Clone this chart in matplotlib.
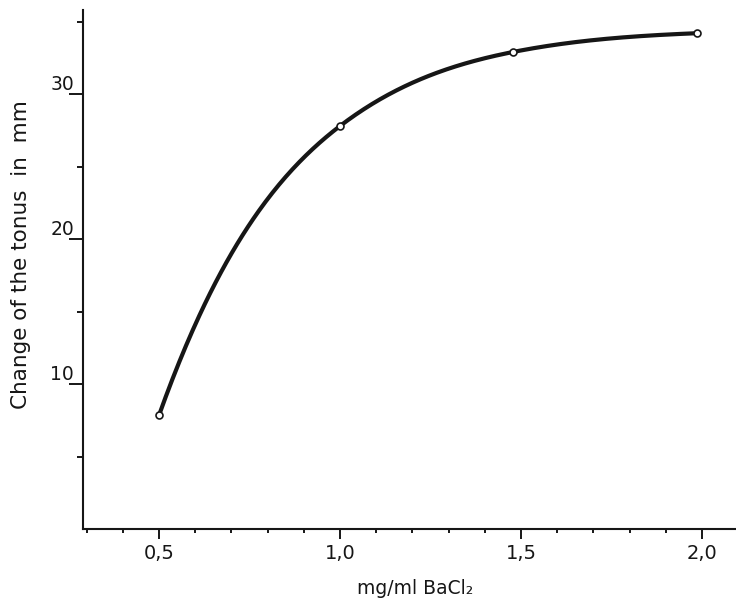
import numpy as np
import matplotlib
matplotlib.use("Agg")
import matplotlib.pyplot as plt
from matplotlib.ticker import FixedLocator, MultipleLocator

# data
conc = [0.5, 1.0, 1.477, 1.986]          # mg/ml BaCl2
tonus = [7.85, 27.8, 32.9, 34.2]         # change of the tonus in mm
x_ticks = [0.5, 1.0, 1.5, 2.0]
x_ticklabels = ["0,5", "1,0", "1,5", "2,0"]
y_ticks = [10, 20, 30]
y_ticklabels = ["10", "20", "30"]
end_slopes = (70.0, 1.0)                 # tangent of the drawn curve at its ends


def clamped_spline(x, y, xs, s0, s1):
    x = np.asarray(x, float); y = np.asarray(y, float)
    n = len(x)
    h = np.diff(x)
    A = np.zeros((n, n)); b = np.zeros(n)
    A[0, 0] = 2 * h[0]; A[0, 1] = h[0]
    b[0] = 6 * ((y[1] - y[0]) / h[0] - s0)
    A[-1, -2] = h[-1]; A[-1, -1] = 2 * h[-1]
    b[-1] = 6 * (s1 - (y[-1] - y[-2]) / h[-1])
    for i in range(1, n - 1):
        A[i, i - 1] = h[i - 1]
        A[i, i] = 2 * (h[i - 1] + h[i])
        A[i, i + 1] = h[i]
        b[i] = 6 * ((y[i + 1] - y[i]) / h[i] - (y[i] - y[i - 1]) / h[i - 1])
    M = np.linalg.solve(A, b)
    out = np.empty_like(xs)
    for k, xv in enumerate(xs):
        i = min(max(np.searchsorted(x, xv) - 1, 0), n - 2)
        t1 = x[i + 1] - xv; t0 = xv - x[i]
        out[k] = (M[i] * t1**3 / (6 * h[i]) + M[i + 1] * t0**3 / (6 * h[i])
                  + (y[i] / h[i] - M[i] * h[i] / 6) * t1
                  + (y[i + 1] / h[i] - M[i + 1] * h[i] / 6) * t0)
    return out


ink = "#161616"
fig = plt.figure(figsize=(7.36, 6.03), dpi=100)
ax = fig.add_axes([0.1128, 0.1227, 0.8872, 0.8607])

xs = np.linspace(conc[0], conc[-1], 400)
ax.plot(xs, clamped_spline(conc, tonus, xs, *end_slopes), color=ink, lw=3.0,
        solid_capstyle="round", zorder=2)
ax.plot(conc, tonus, "o", ms=5, mfc="white", mec=ink, mew=1.2, zorder=3)

ax.set_xlim(0.29, 2.094)
ax.set_ylim(0, 35.8)

for s in ["top", "right"]:
    ax.spines[s].set_visible(False)
for s in ["left", "bottom"]:
    ax.spines[s].set_linewidth(1.5)
    ax.spines[s].set_color(ink)

ax.xaxis.set_major_locator(FixedLocator(x_ticks))
ax.set_xticklabels(x_ticklabels)
ax.xaxis.set_minor_locator(MultipleLocator(0.1))
ax.yaxis.set_major_locator(FixedLocator(y_ticks))
ax.set_yticklabels(y_ticklabels)
ax.yaxis.set_minor_locator(FixedLocator([5, 15, 25, 35]))

ax.tick_params(axis="x", which="major", length=7, width=1.4, color=ink,
               labelsize=14, labelcolor=ink, pad=4)
ax.tick_params(axis="x", which="minor", length=3, width=1.4, color=ink)
ax.tick_params(axis="y", which="major", length=10, width=1.4, color=ink,
               labelsize=13.5, labelcolor=ink, pad=-3.5)
ax.tick_params(axis="y", which="minor", length=4, width=1.4, color=ink)
for lab in ax.get_yticklabels():
    lab.set_verticalalignment("bottom")

ax.set_xlabel("mg/ml BaCl₂", fontsize=13.5, color=ink, labelpad=11)
ax.set_ylabel("Change of the tonus  in  mm", fontsize=15.5, color=ink, labelpad=14)
ax.xaxis.label.set_x(0.509)
ax.yaxis.label.set_y(0.528)

fig.savefig("out.png", dpi=100, facecolor="white")
